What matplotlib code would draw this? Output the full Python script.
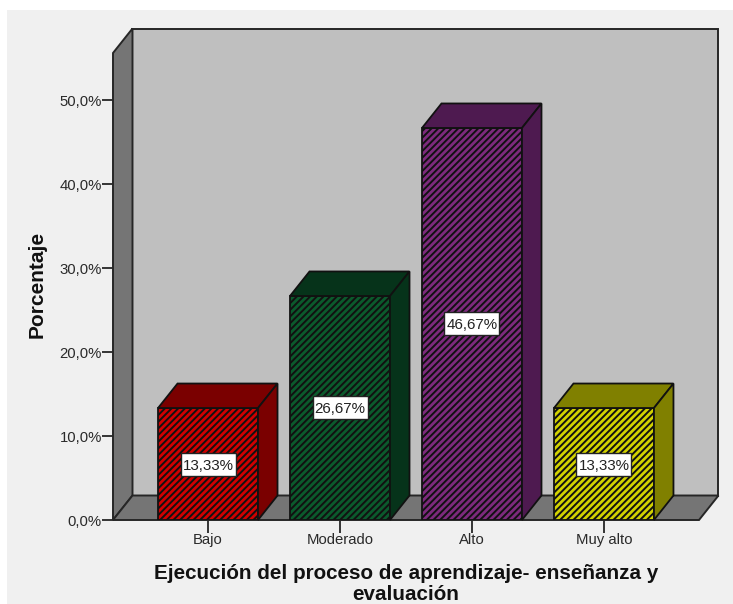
import matplotlib
matplotlib.use("Agg")
import matplotlib.pyplot as plt
from matplotlib.patches import Polygon, Rectangle

categories = ["Bajo", "Moderado", "Alto", "Muy alto"]
values = [13.33, 26.67, 46.67, 13.33]
labels = ["13,33%", "26,67%", "46,67%", "13,33%"]
y_ticks = [0, 10, 20, 30, 40, 50]
y_ticklabels = ["0,0%", "10,0%", "20,0%", "30,0%", "40,0%", "50,0%"]
face_colors = ["#d00000", "#0b5a2c", "#7d2a7d", "#d2d200"]
side_colors = ["#7a0000", "#06331a", "#4e1a50", "#808000"]

W, H = 733, 604
plt.rcParams["font.family"] = ["Liberation Sans", "DejaVu Sans"]
plt.rcParams["hatch.linewidth"] = 1.4
fig = plt.figure(figsize=(W / 100, H / 100), dpi=100, facecolor="white")

# grey background panel
fig.add_artist(Rectangle((7 / W, 0), (W - 7) / W, (H - 10) / H, transform=fig.transFigure,
                         facecolor="#f0f0f0", edgecolor="none", zorder=-5))

ax = fig.add_axes([113 / W, (H - 520) / H, (699 - 113) / W, (520 - 53) / H])
ax.patch.set_alpha(0)
ax.set_xlim(-0.72, 3.72)
ax.set_ylim(0, 467 / 8.4)
for s in ax.spines.values():
    s.set_visible(False)

dx = 19.5 / 132
dy = 24.5 / 8.4
x0, x1 = ax.get_xlim()
y0, y1 = ax.get_ylim()
line = "#262626"

ax.add_patch(Polygon([(x0 + dx, y0 + dy), (x1 + dx, y0 + dy), (x1 + dx, y1 + dy), (x0 + dx, y1 + dy)],
                     facecolor="#bfbfbf", edgecolor=line, lw=1.4, clip_on=False))
ax.add_patch(Polygon([(x0, y0), (x0 + dx, y0 + dy), (x0 + dx, y1 + dy), (x0, y1)],
                     facecolor="#757575", edgecolor=line, lw=1.4, clip_on=False))
ax.add_patch(Polygon([(x0, y0), (x1, y0), (x1 + dx, y0 + dy), (x0 + dx, y0 + dy)],
                     facecolor="#757575", edgecolor=line, lw=1.4, clip_on=False))

half = 50 / 132
box_w = 55 / 132
box_h = 23 / 8.4
for i, (v, fc, sc, lab) in enumerate(zip(values, face_colors, side_colors, labels)):
    l, r = i - half, i + half
    ax.bar(i, v, width=2 * half, color=fc, edgecolor="#111111", hatch="/////", linewidth=1.3, zorder=3)
    ax.add_patch(Polygon([(l, v), (r, v), (r + dx, v + dy), (l + dx, v + dy)],
                         facecolor=sc, edgecolor="#111111", lw=1.3, zorder=3, clip_on=False))
    ax.add_patch(Polygon([(r, 0), (r + dx, dy), (r + dx, v + dy), (r, v)],
                         facecolor=sc, edgecolor="#111111", lw=1.3, zorder=3, clip_on=False))
    ax.add_patch(Rectangle((i - box_w / 2, v / 2 - box_h / 2), box_w, box_h, facecolor="white",
                           edgecolor="#222222", lw=1.0, zorder=4))
    ax.text(i, v / 2, lab, ha="center", va="center_baseline", fontsize=10.9, color="#222222", zorder=5)

ax.set_xticks(range(len(categories)), categories, va="baseline")
ax.set_yticks(y_ticks, y_ticklabels)
ax.tick_params(axis="x", length=9, width=1.3, color=line, labelsize=10.7, labelcolor="#2a2a2a", pad=8.2)
ax.tick_params(axis="y", length=8, width=1.3, color=line, labelsize=10.7, labelcolor="#2a2a2a", pad=0)

fig.text(37 / W, (H - 284) / H, "Porcentaje", rotation=90, ha="center", va="center",
         fontsize=15, fontweight="bold", color="#111111")
fig.text(406 / W, (H - 584) / H, "Ejecución del proceso de aprendizaje- enseñanza y\nevaluación",
         ha="center", va="center", fontsize=14.85, fontweight="bold", color="#111111", linespacing=1.08)

fig.savefig("out.png", dpi=100, facecolor="white")
